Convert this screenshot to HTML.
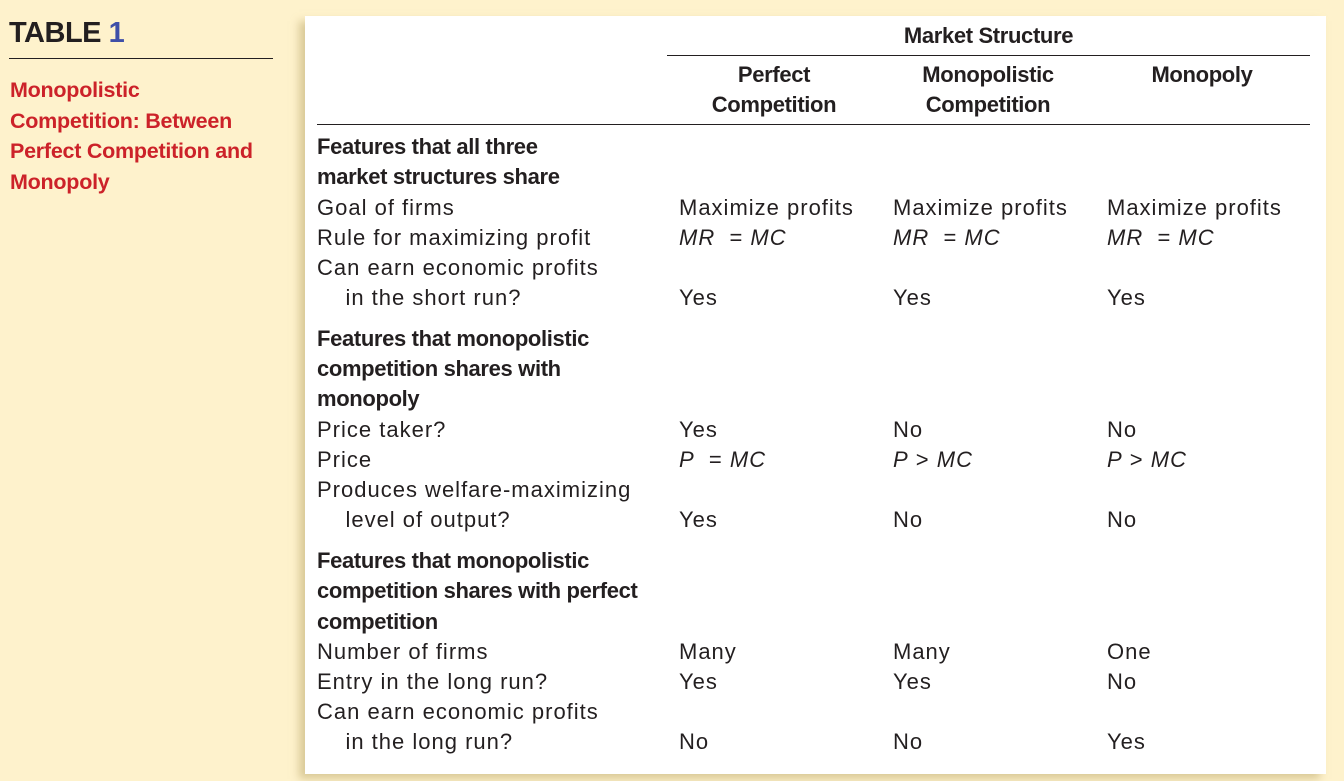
<!DOCTYPE html>
<html><head><meta charset="utf-8"><style>
body{margin:0;width:1344px;height:781px;background:#fef2cc;position:relative;overflow:hidden;font-family:"Liberation Sans",sans-serif;color:#231f20}
.t{position:absolute;line-height:30px;font-size:22px;letter-spacing:1px;white-space:nowrap}
.b{font-weight:bold;font-size:22px;letter-spacing:-0.35px}
.h{text-align:center;width:214px}
#panel{position:absolute;left:305px;top:16px;width:1021px;height:758px;background:#fff;box-shadow:-6px 5px 8px rgba(190,170,110,.55)}
.rule{position:absolute;height:1px;background:#231f20}
</style></head><body>
<div class="t" style="left:9px;top:16px;font-size:29px;font-weight:bold;line-height:34px;letter-spacing:-0.5px">TABLE <span style="color:#3e4fa8">1</span></div>
<div class="rule" style="left:9px;top:58px;width:264px"></div>
<div class="t b" style="left:10px;top:75px;color:#cc2229;line-height:30.5px;font-size:21.5px;letter-spacing:-0.25px">Monopolistic<br>Competition: Between<br>Perfect Competition and<br>Monopoly</div>
<div id="panel"></div>
<div class="t b h" style="left:667px;top:21px;width:643px">Market Structure</div>
<div class="rule" style="left:667px;top:55px;width:643px"></div>
<div class="t b h" style="left:667px;top:60px">Perfect<br>Competition</div>
<div class="t b h" style="left:881px;top:60px">Monopolistic<br>Competition</div>
<div class="t b h" style="left:1095px;top:60px">Monopoly</div>
<div class="rule" style="left:317px;top:124px;width:993px"></div>
<div id="rows"></div>
<script>
var rows=[
[147,"Features that all three",1],[177,"market structures share",1],
[208,"Goal of firms",0,"Maximize profits","Maximize profits","Maximize profits"],
[238,"Rule for maximizing profit",0,"<i>MR</i> &nbsp;= <i>MC</i>","<i>MR</i> &nbsp;= <i>MC</i>","<i>MR</i> &nbsp;= <i>MC</i>"],
[268,"Can earn economic profits",0],
[298,"&nbsp;&nbsp;&nbsp;&nbsp;in the short run?",0,"Yes","Yes","Yes"],
[339,"Features that monopolistic",1],[369,"competition shares with",1],[399,"monopoly",1],
[430,"Price taker?",0,"Yes","No","No"],
[460,"Price",0,"<i>P</i> &nbsp;= <i>MC</i>","<i>P</i> &gt; <i>MC</i>","<i>P</i> &gt; <i>MC</i>"],
[490,"Produces welfare-maximizing",0],
[520,"&nbsp;&nbsp;&nbsp;&nbsp;level of output?",0,"Yes","No","No"],
[561,"Features that monopolistic",1],[591,"competition shares with perfect",1],[622,"competition",1],
[652,"Number of firms",0,"Many","Many","One"],
[682,"Entry in the long run?",0,"Yes","Yes","No"],
[712,"Can earn economic profits",0],
[742,"&nbsp;&nbsp;&nbsp;&nbsp;in the long run?",0,"No","No","Yes"]];
var cols=[679,893,1107];
var c=document.getElementById('rows');
rows.forEach(function(r,k){
 var d=document.createElement('div');
 d.className='t'+(r[2]?' b':'');
 d.style.left='317px';d.style.top=(r[0]-15)+'px';d.innerHTML=r[1];
 
 
 c.appendChild(d);
 for(var j=0;j<3;j++){ if(r[3+j]){
  var e=document.createElement('div');e.className='t';
  e.style.left=cols[j]+'px';e.style.top=(r[0]-15)+'px';e.innerHTML=r[3+j];
  
  
  c.appendChild(e);}}
});
</script>
</body></html>
